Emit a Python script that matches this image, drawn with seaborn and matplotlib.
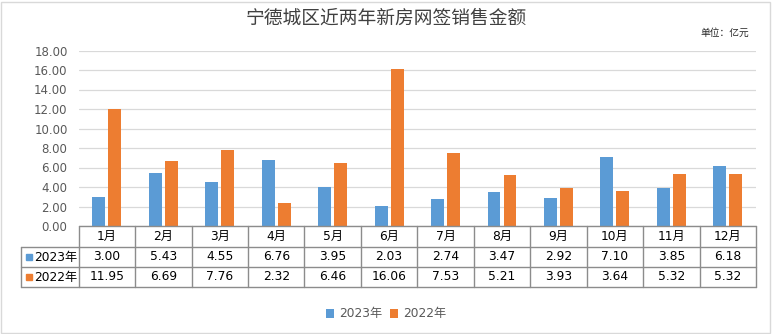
import matplotlib
matplotlib.use("Agg")
import matplotlib.pyplot as plt
from matplotlib.patches import Rectangle
import seaborn as sns
import pandas as pd

months = ["1月", "2月", "3月", "4月", "5月", "6月", "7月", "8月", "9月", "10月", "11月", "12月"]
series_names = ["2023年", "2022年"]
values_2023 = [3.00, 5.43, 4.55, 6.76, 3.95, 2.03, 2.74, 3.47, 2.92, 7.10, 3.85, 6.18]
values_2022 = [11.95, 6.69, 7.76, 2.32, 6.46, 16.06, 7.53, 5.21, 3.93, 3.64, 5.32, 5.32]
colors = ["#5B9BD5", "#ED7D31"]
title = "宁德城区近两年新房网签销售金额"
unit_text = "单位：亿元"
yticks = [0, 2, 4, 6, 8, 10, 12, 14, 16, 18]

sns.set_theme(style="white")
plt.rcParams["font.family"] = ["DejaVu Sans", "Noto Sans CJK SC"]

df = pd.DataFrame({
    "month": months * 2,
    "year": [series_names[0]] * 12 + [series_names[1]] * 12,
    "value": values_2023 + values_2022,
})

W, H = 772, 334
fig = plt.figure(figsize=(W / 100, H / 100), dpi=100)
ax_left, ax_right, ax_top, ax_bot = 78.7, 756.0, 50.5, 226.0
ax = fig.add_axes([ax_left / W, 1 - ax_bot / H, (ax_right - ax_left) / W, (ax_bot - ax_top) / H])

sns.barplot(data=df, x="month", y="value", hue="year", order=months,
            hue_order=series_names, palette=colors, width=0.566, gap=0.19,
            saturation=1, linewidth=0, ax=ax, legend=True)

ax.set_xlim(-0.5, 11.5)
ax.set_ylim(0, 18)
ax.set_yticks(yticks)
ax.set_yticklabels([f"{v:.2f}" for v in yticks], fontsize=8.5, color="#595959",
                   family=["DejaVu Sans"])
ax.set_xticks([])
ax.set_xlabel("")
ax.set_ylabel("")
ax.tick_params(axis="y", length=0, pad=8)
ax.yaxis.grid(True, color="#d9d9d9", linewidth=0.9)
ax.set_axisbelow(True)
for s in ax.spines.values():
    s.set_visible(False)

handles, labels = ax.get_legend_handles_labels()
ax.get_legend().remove()

# data table beneath the axes
trans = ax.get_xaxis_transform()
hpx = ax_bot - ax_top
colw = (ax_right - ax_left) / 12
rows_px = [0, 20.7, 41.3, 60.7]
ys = [-r / hpx for r in rows_px]
x_rowlab = -0.5 - (ax_left - 21.3) / colw
lc = "#8c8c8c"
lw = 1.0
ax.plot([-0.5, 11.5], [ys[0], ys[0]], color=lc, lw=lw, transform=trans, clip_on=False)
for y in ys[1:]:
    ax.plot([x_rowlab, 11.5], [y, y], color=lc, lw=lw, transform=trans, clip_on=False)
for i in range(13):
    ax.plot([i - 0.5, i - 0.5], [ys[0], ys[3]], color=lc, lw=lw, transform=trans, clip_on=False)
ax.plot([x_rowlab, x_rowlab], [ys[1], ys[3]], color=lc, lw=lw, transform=trans, clip_on=False)

fam = ["DejaVu Sans", "Noto Sans CJK SC"]
for i, m in enumerate(months):
    ax.text(i, (ys[0] + ys[1]) / 2, m, ha="center", va="center", fontsize=8.8,
            color="black", transform=trans, family=fam)
for r, vals in enumerate([values_2023, values_2022]):
    yc = (ys[r + 1] + ys[r + 2]) / 2
    for i, v in enumerate(vals):
        ax.text(i, yc, f"{v:.2f}", ha="center", va="center", fontsize=8.8,
                color="black", transform=trans, family=fam)
    ax.plot([-0.5 - (ax_left - 29) / colw], [yc], marker="s", markersize=4.8,
            color=colors[r], transform=trans, clip_on=False, linestyle="none")
    ax.text(-0.5 - (ax_left - 34.5) / colw, yc, series_names[r], ha="left", va="center",
            fontsize=8.8, color="black", transform=trans, family=fam)

fig.text(0.5, 1 - 18.5 / H, title, ha="center", va="center", fontsize=13.5,
         color="#404040", family=["Noto Sans CJK SC"], fontweight="medium")
fig.text(749 / W, 1 - 33 / H, unit_text, ha="right", va="center", fontsize=7,
         color="#262626", family=["Noto Sans CJK SC"])

fig.legend(handles, labels, loc="center", bbox_to_anchor=(0.5, 1 - 314 / H), ncol=2,
           frameon=False, handlelength=0.7, handleheight=0.7,
           handletextpad=0.4, columnspacing=0.6, labelcolor="#595959",
           prop={"family": fam, "size": 8.8})

fig.patches.append(Rectangle((0.5 / W, 1.5 / H), 1 - 2.5 / W, 1 - 3 / H,
                             transform=fig.transFigure, fill=False,
                             edgecolor="#d9d9d9", linewidth=1))

fig.savefig("out.png", dpi=100, facecolor="white")
